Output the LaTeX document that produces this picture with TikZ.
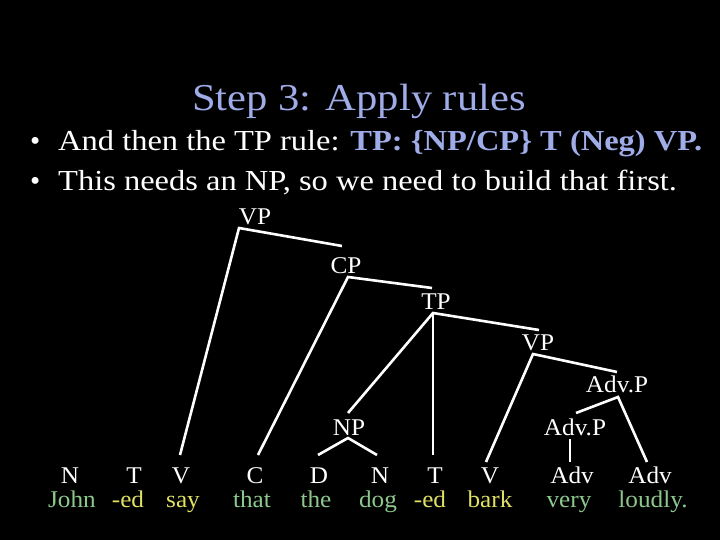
\documentclass[tikz,border=0pt]{standalone}
\usepackage{fontspec}
\setmainfont{Liberation Serif}
\definecolor{titleblue}{RGB}{160,172,232}
\definecolor{wgreen}{RGB}{140,200,140}
\definecolor{wyellow}{RGB}{225,225,100}
\newcommand{\hs}[1]{\scalebox{1.12}[1]{#1}}
\newcommand{\ts}[1]{\scalebox{1.05}[1]{#1}}
\begin{document}
\begin{tikzpicture}[x=1pt,y=-1pt,
  lab/.style={text=white,font=\fontsize{24}{26}\selectfont,anchor=base,inner sep=0pt},
  wgr/.style={text=wgreen,font=\fontsize{24}{26}\selectfont,anchor=base,inner sep=0pt},
  wye/.style={text=wyellow,font=\fontsize{24}{26}\selectfont,anchor=base,inner sep=0pt},
  br/.style={draw=white,line width=2.6pt},
  txt/.style={text=white,font=\fontsize{29}{31}\selectfont,anchor=base west,inner sep=0pt}]
\fill[black] (0,0) rectangle (720,540);
\useasboundingbox (0,0) rectangle (720,540);
% title
\node[anchor=base,inner sep=0pt,text=titleblue,font=\fontsize{38}{40}\selectfont] (title) at (359,111) {\hs{Step 3: Apply rules}};
% bullets
\node[txt] (b1) at (30,151) {\textbullet};
\node[txt] (t1) at (58,151) {\hs{And then the TP rule: \textcolor{titleblue}{\textbf{TP: \{NP/CP\} T (Neg) VP.}}}};
\node[txt] (b2) at (30,191) {\textbullet};
\node[txt] (t2) at (58,191) {\hs{This needs an NP, so we need to build that first.}};
% phrase labels
\node[lab] (vp1) at (255,225) {\ts{VP}};
\node[lab] (cp) at (346,273) {\ts{CP}};
\node[lab] (tp) at (436,309) {\ts{TP}};
\node[lab] (vp2) at (538,350) {\ts{VP}};
\node[lab] (advp1) at (617,392) {\ts{Adv.P}};
\node[lab] (advp2) at (575,435) {\ts{Adv.P}};
\node[lab] (np) at (349,435) {\ts{NP}};
% category row
\node[lab] (cN1) at (70,483) {\ts{N}};
\node[lab] (cT1) at (134,483) {\ts{T}};
\node[lab] (cV1) at (181,483) {\ts{V}};
\node[lab] (cC) at (255,483) {\ts{C}};
\node[lab] (cD) at (319,483) {\ts{D}};
\node[lab] (cN2) at (380,483) {\ts{N}};
\node[lab] (cT2) at (435,483) {\ts{T}};
\node[lab] (cV2) at (490,483) {\ts{V}};
\node[lab] (cA1) at (572,483) {\ts{Adv}};
\node[lab] (cA2) at (650,483) {\ts{Adv}};
% word row
\node[wgr] (wJohn) at (72,507) {\ts{John}};
\node[wye] (wed1) at (128,507) {\ts{-ed}};
\node[wye] (wsay) at (183,507) {\ts{say}};
\node[wgr] (wthat) at (252,507) {\ts{that}};
\node[wgr] (wthe) at (316,507) {\ts{the}};
\node[wgr] (wdog) at (378,507) {\ts{dog}};
\node[wye] (wed2) at (430,507) {\ts{-ed}};
\node[wye] (wbark) at (490,507) {\ts{bark}};
\node[wgr] (wvery) at (569,507) {\ts{very}};
\node[wgr] (wloud) at (653,507) {\ts{loudly.}};
% branch points
\coordinate (aVP1) at (239,228);
\coordinate (eVP1) at (342,246);
\coordinate (aCP) at (348,277);
\coordinate (eCP) at (432,288);
\coordinate (aTP) at (433,313);
\coordinate (eTP) at (539,330);
\coordinate (aVP2) at (533,354);
\coordinate (eVP2) at (617,372);
\coordinate (aAP1) at (618,397);
\coordinate (eAP1) at (576,413);
\coordinate (aNP) at (348,438);
\coordinate (tNP) at (348,413);
\coordinate (tV1) at (180,455);
\coordinate (tC) at (258,455);
\coordinate (tD) at (318,455);
\coordinate (tN2) at (377,455);
\coordinate (tT2) at (433,455);
\coordinate (tV2) at (486,462);
\coordinate (tA2) at (647,462);
\coordinate (aAP2) at (570,439);
\coordinate (tA1) at (570,462);
% branches
\draw[br] (eVP1) -- (aVP1) -- (tV1);
\draw[br] (eCP) -- (aCP) -- (tC);
\draw[br] (eTP) -- (aTP) -- (tNP);
\draw[br] (aTP) -- (tT2);
\draw[br] (eVP2) -- (aVP2) -- (tV2);
\draw[br] (eAP1) -- (aAP1) -- (tA2);
\draw[br] (aAP2) -- (tA1);
\draw[br] (tD) -- (aNP) -- (tN2);
\end{tikzpicture}
\end{document}
